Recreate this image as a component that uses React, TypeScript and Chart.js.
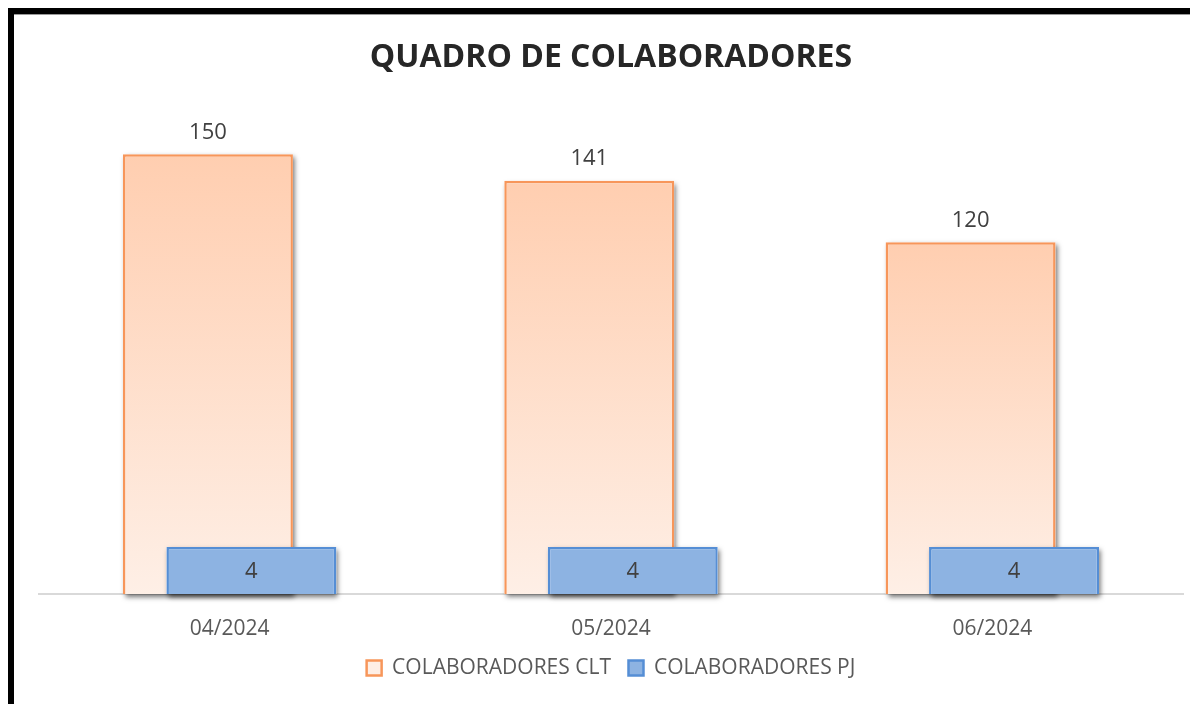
import React, { useEffect, useRef } from 'react';
import { Chart, registerables } from 'chart.js';

Chart.register(...registerables);

const categories = ['04/2024', '05/2024', '06/2024'];
const cltValues = [150, 141, 120];
const pjValues = [4, 4, 4];
const seriesLabels = ['COLABORADORES CLT', 'COLABORADORES PJ'];
const chartTitle = 'QUADRO DE COLABORADORES';
const yMax = 160;
const y1Max = 40;

const FONT = "'Open Sans', sans-serif";

export default function App() {
  const ref = useRef<HTMLCanvasElement>(null);

  useEffect(() => {
    const canvas = ref.current;
    if (!canvas) return;

    const orderPlugin = {
      id: 'orderAndLabels',
      beforeDatasetDraw(chart: any, args: any) {
        if (args.index === 1 && !chart.$pjPass) return false;
        const ctx = chart.ctx;
        ctx.save();
        ctx.shadowColor = 'rgba(0,0,0,0.55)';
        ctx.shadowBlur = 5;
        ctx.shadowOffsetX = 2;
        ctx.shadowOffsetY = 3;
        ctx.fillStyle = '#ffffff';
        args.meta.data.forEach((el: any) => {
          const { x, y, base, width } = el.getProps(['x', 'y', 'base', 'width'], true);
          ctx.fillRect(x - width / 2, Math.min(y, base), width, Math.abs(base - y));
        });
        ctx.restore();
        return true;
      },
      afterDatasetsDraw(chart: any) {
        const pjMeta = chart.getDatasetMeta(1);
        chart.$pjPass = true;
        if (typeof chart._drawDataset === 'function') {
          chart._drawDataset(pjMeta);
        } else {
          pjMeta.controller.draw();
        }
        chart.$pjPass = false;

        const ctx = chart.ctx;
        ctx.save();
        ctx.fillStyle = '#404040';
        ctx.font = `22px ${FONT}`;
        ctx.textAlign = 'center';
        ctx.textBaseline = 'middle';
        chart.getDatasetMeta(0).data.forEach((el: any, i: number) => {
          ctx.fillText(String(cltValues[i]), el.x, el.y - 22);
        });
        pjMeta.data.forEach((el: any, i: number) => {
          ctx.fillText(String(pjValues[i]), el.x, (el.y + el.base) / 2 + 1);
        });
        ctx.restore();
      },
    };

    const cltFill = (c: any) => {
      const chart = c.chart;
      if (c.type !== 'data' || !chart.chartArea || !c.parsed) return '#FCD5BC';
      const yScale = chart.scales.y;
      const top = yScale.getPixelForValue(c.parsed.y);
      const base = yScale.getPixelForValue(0);
      const g = chart.ctx.createLinearGradient(0, top, 0, base);
      g.addColorStop(0, '#FFCEB0');
      g.addColorStop(1, '#FEEFE6');
      return g;
    };

    const chart = new Chart(canvas, {
      type: 'bar',
      data: {
        labels: categories,
        datasets: [
          {
            label: seriesLabels[0],
            data: cltValues,
            yAxisID: 'y',
            backgroundColor: cltFill as any,
            borderColor: '#F7965A',
            borderWidth: 2.5,
            barPercentage: 3.91,
            categoryPercentage: 0.228,
          },
          {
            label: seriesLabels[1],
            data: pjValues,
            yAxisID: 'y1',
            backgroundColor: '#8DB3E2',
            borderColor: '#558ED5',
            borderWidth: 2.5,
            barPercentage: 3.91,
            categoryPercentage: 0.228,
          },
        ],
      },
      options: {
        responsive: false,
        animation: false,
        events: [],
        layout: { padding: { left: 25, right: 15, top: 0, bottom: 15.5 } },
        plugins: {
          tooltip: { enabled: false },
          title: {
            display: true,
            text: chartTitle,
            color: '#262626',
            font: { family: FONT, size: 32, weight: 'bold' },
            padding: { top: 24.4, bottom: 48.2 },
          },
          legend: {
            display: true,
            position: 'bottom',
            labels: {
              color: '#595959',
              font: { family: FONT, size: 21 },
              boxWidth: 15,
              boxHeight: 15,
              padding: 17.5,
            },
          },
        },
        scales: {
          x: {
            grid: { display: false, drawTicks: false },
            border: { display: true, color: '#D9D9D9', width: 2 },
            ticks: {
              color: '#595959',
              font: { family: FONT, size: 21, lineHeight: 1.0 },
              padding: 24.5,
            },
            afterFit: (s: any) => {
              s.height = 46;
            },
          },
          y: { display: false, min: 0, max: yMax },
          y1: { display: false, min: 0, max: y1Max, position: 'right' },
        },
      },
      plugins: [orderPlugin],
    } as any);

    return () => chart.destroy();
  }, []);

  return (
    <div
      style={{
        width: 1184,
        height: 690,
        borderLeft: '6px solid #000',
        borderTop: '6px solid #000',
        boxShadow: 'inset 0 1px 0 #9a9a9a',
        overflow: 'hidden',
        position: 'relative',
        background: '#fff',
      }}
    >
      <canvas ref={ref} width={1184} height={690} style={{ display: 'block' }} />
    </div>
  );
}
